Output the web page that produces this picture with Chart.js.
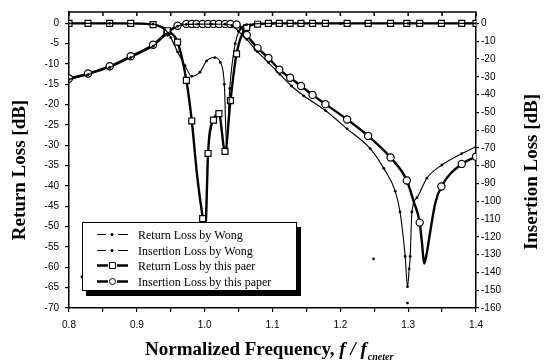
<!DOCTYPE html>
<html>
<head>
<meta charset="utf-8">
<title>Return / Insertion Loss</title>
<script src="https://cdn.jsdelivr.net/npm/chart.js@4/dist/chart.umd.min.js"></script>
<style>
  html, body { margin: 0; padding: 0; background: #fff; }
  #wrap { position: relative; width: 547px; height: 364px; }
</style>
</head>
<body>
<div id="wrap"><canvas id="lossChart" width="547" height="364"></canvas></div>
<script>
// normalized frequency grid where the markers of "this paper" sit
const freqMarks = [0.800, 0.828, 0.860, 0.891, 0.924, 0.945, 0.960, 0.973, 0.981, 0.988, 0.997, 1.005, 1.013, 1.021, 1.030, 1.038, 1.047, 1.062, 1.078, 1.094, 1.110, 1.126, 1.142, 1.159, 1.178, 1.210, 1.241, 1.274, 1.298, 1.317, 1.349, 1.379, 1.400];

// return loss by this paper (dB, left axis)
const rlPaperF = [0.800, 0.828, 0.860, 0.891, 0.924, 0.945, 0.960, 0.973, 0.981, 0.997, 1.005, 1.013, 1.021, 1.030, 1.038, 1.047, 1.062, 1.078, 1.094, 1.110, 1.126, 1.142, 1.159, 1.178, 1.210, 1.241, 1.274, 1.298, 1.317, 1.349, 1.379, 1.400];
const rlPaper = [0, 0, 0, 0, -0.3, -1.8, -4.6, -14, -24, -48, -32, -23.8, -22.2, -31.5, -19, -7.5, -1.0, -0.2, 0, 0, 0, 0, 0, 0, 0, 0, 0, 0, 0, 0, 0, 0];
// unmarked points of the same curve (deep reflection zero)
const rlPaperExtraF = [0.935, 0.988, 0.993, 0.9995, 1.002];
const rlPaperExtraDb = [-0.8, -36, -43, -54, -48];

// insertion loss by this paper (dB, right axis) at freqMarks
const ilPaper = [-31, -28.2, -24.1, -18.5, -12, -5, -1.3, -0.3, -0.3, -0.3, -0.3, -0.3, -0.3, -0.3, -0.3, -0.3, -0.6, -6.5, -13.9, -19.4, -26, -30.6, -35.2, -40.2, -45.4, -54, -63.3, -75.4, -88.3, -112, -91.7, -79, -75];
const ilPaperExtraF = [1.054, 1.308, 1.3205, 1.3236, 1.327, 1.333, 1.340];
const ilPaperExtraDb = [-2.2, -100, -124, -135, -130, -116, -101];

// return loss by Wong (dB, left axis)
const rlWongF = [0.800, 0.860, 0.924, 0.940, 0.950, 0.960, 0.971, 0.981, 0.993, 1.003, 1.015, 1.023, 1.029, 1.0325, 1.037, 1.045, 1.052, 1.062, 1.100, 1.200, 1.300, 1.400];
const rlWongDb = [0, 0, -0.2, -1.2, -3.5, -7, -10.4, -13, -12, -9.2, -8.4, -9.6, -15, -30.7, -16, -5, -1.5, -0.3, 0, 0, 0, 0];

// insertion loss by Wong (dB, right axis)
const ilWongF = [0.800, 0.828, 0.860, 0.891, 0.924, 0.945, 0.960, 0.973, 0.990, 1.010, 1.030, 1.040, 1.050, 1.062, 1.078, 1.094, 1.111, 1.128, 1.146, 1.178, 1.210, 1.244, 1.264, 1.281, 1.288, 1.2956, 1.299, 1.3015, 1.303, 1.3055, 1.313, 1.3276, 1.3497, 1.379, 1.400];
const ilWongDb = [-31.5, -28.8, -24.8, -19.2, -12.8, -5.8, -1.6, -0.6, -0.4, -0.4, -0.5, -1.2, -4.5, -9, -16, -22, -28.7, -35.2, -40.7, -49, -59.3, -70.4, -81.5, -94.4, -106, -131, -148, -138, -131, -106, -98, -87, -79.6, -73.2, -69.3];

// loose dots in the figure (left axis units)
const strayF = [0.819, 1.249, 1.299];
const strayDb = [-62.3, -57.9, -68.8];

const seriesNames = ["Return Loss by Wong", "Insertion Loss by Wong", "Return Loss by this paer", "Insertion Loss by this paper"];
const leftTicks = [0, -5, -10, -15, -20, -25, -30, -35, -40, -45, -50, -55, -60, -65, -70];
const rightTicks = [0, -10, -20, -30, -40, -50, -60, -70, -80, -90, -100, -110, -120, -130, -140, -150, -160];
const axisTitles = { left: "Return Loss [dB]", right: "Insertion Loss [dB]", bottom: "Normalized Frequency, ", fvar: "f / f", fsub: "cneter" };

function pts(fs, vs, mark) {
  return fs.map((f, i) => ({ x: f, y: vs[i], mark: mark }));
}
function merged(fs, vs, exF, exV) {
  return pts(fs, vs, true).concat(pts(exF, exV, false)).sort((a, b) => a.x - b.x);
}

const framePlugin = {
  id: "frame",
  afterDraw(chart) {
    const ctx = chart.ctx;
    const a = chart.chartArea;
    const xs = chart.scales.x;
    ctx.save();
    // top frame line with inward ticks
    ctx.strokeStyle = "#000";
    ctx.lineWidth = 1.5;
    ctx.beginPath();
    ctx.moveTo(a.left, a.top);
    ctx.lineTo(a.right, a.top);
    xs.ticks.forEach(t => {
      const px = xs.getPixelForValue(t.value);
      ctx.moveTo(px, a.top);
      ctx.lineTo(px, a.top + 4);
    });
    ctx.stroke();

    // axis titles
    ctx.fillStyle = "#000";
    ctx.font = 'bold 19px "Liberation Serif"';
    ctx.textBaseline = "alphabetic";
    ctx.textAlign = "center";
    ctx.save();
    ctx.translate(25, 170);
    ctx.rotate(-Math.PI / 2);
    ctx.fillText(axisTitles.left, 0, 0);
    ctx.restore();
    ctx.save();
    ctx.translate(537, 172);
    ctx.rotate(-Math.PI / 2);
    ctx.fillText(axisTitles.right, 0, 0);
    ctx.restore();

    ctx.textAlign = "left";
    let x = 145;
    const base = 355;
    ctx.fillText(axisTitles.bottom, x, base);
    x += ctx.measureText(axisTitles.bottom).width;
    ctx.font = 'italic bold 19px "Liberation Serif"';
    ctx.fillText(axisTitles.fvar, x, base);
    x += ctx.measureText(axisTitles.fvar).width + 1;
    ctx.font = 'italic bold 10px "Liberation Serif"';
    ctx.fillText(axisTitles.fsub, x, base + 5);

    // legend box with drop shadow
    const bx = 82, by = 222, bw = 215, bh = 69;
    ctx.fillStyle = "#000";
    ctx.fillRect(bx + 4, by + 5, bw, bh);
    ctx.fillStyle = "#fff";
    ctx.fillRect(bx, by, bw, bh);
    ctx.lineWidth = 1;
    ctx.strokeRect(bx + 0.5, by + 0.5, bw - 1, bh - 1);

    ctx.font = '12px "Liberation Serif"';
    ctx.textBaseline = "middle";
    seriesNames.forEach((name, i) => {
      const ds = chart.data.datasets[i];
      const y = Math.round(by + 12 + i * 15.5) + 0.5;
      ctx.strokeStyle = "#000";
      ctx.fillStyle = "#000";
      ctx.lineWidth = ds.borderWidth;
      ctx.beginPath();
      if (ds.pointStyle === "circle" && ds.borderWidth < 2) {
        ctx.moveTo(97, y); ctx.lineTo(106, y);
        ctx.moveTo(118, y); ctx.lineTo(128, y);
        ctx.stroke();
        ctx.beginPath();
        ctx.arc(112, y, 1.5, 0, Math.PI * 2);
        ctx.fill();
      } else {
        ctx.moveTo(97, y); ctx.lineTo(108, y);
        ctx.moveTo(117, y); ctx.lineTo(128, y);
        ctx.stroke();
        ctx.lineWidth = 1;
        ctx.fillStyle = "#fff";
        ctx.beginPath();
        if (ds.pointStyle === "rect") {
          ctx.rect(109.5, y - 3, 6, 6);
        } else {
          ctx.arc(112.5, y, 3, 0, Math.PI * 2);
        }
        ctx.fill();
        ctx.stroke();
      }
      ctx.fillStyle = "#000";
      ctx.fillText(name, 138, y + 1);
    });
    ctx.restore();
  }
};

const tickFont = { family: '"Liberation Sans", Arial, sans-serif', size: 10 };

new Chart(document.getElementById("lossChart").getContext("2d"), {
  type: "line",
  data: {
    datasets: [
      {
        label: seriesNames[0],
        data: pts(rlWongF, rlWongDb, true),
        yAxisID: "yL",
        borderColor: "#000",
        borderWidth: 1.1,
        pointStyle: "circle",
        pointRadius: 1.4,
        pointBackgroundColor: "#000",
        pointBorderWidth: 0,
        cubicInterpolationMode: "monotone"
      },
      {
        label: seriesNames[1],
        data: pts(ilWongF, ilWongDb, true),
        yAxisID: "yR",
        borderColor: "#000",
        borderWidth: 1.1,
        pointStyle: "circle",
        pointRadius: 1.4,
        pointBackgroundColor: "#000",
        pointBorderWidth: 0,
        cubicInterpolationMode: "monotone"
      },
      {
        label: seriesNames[2],
        data: merged(rlPaperF, rlPaper, rlPaperExtraF, rlPaperExtraDb),
        yAxisID: "yL",
        borderColor: "#000",
        borderWidth: 2.4,
        pointStyle: "rect",
        pointRadius: ctx => (ctx.raw && ctx.raw.mark ? 4.2 : 0),
        pointBackgroundColor: "#fff",
        pointBorderColor: "#000",
        pointBorderWidth: 1.2,
        cubicInterpolationMode: "monotone"
      },
      {
        label: seriesNames[3],
        data: merged(freqMarks, ilPaper, ilPaperExtraF, ilPaperExtraDb),
        yAxisID: "yR",
        borderColor: "#000",
        borderWidth: 2.4,
        pointStyle: "circle",
        pointRadius: ctx => (ctx.raw && ctx.raw.mark ? 3.6 : 0),
        pointBackgroundColor: "#fff",
        pointBorderColor: "#000",
        pointBorderWidth: 1.2,
        cubicInterpolationMode: "monotone"
      },
      {
        label: "stray",
        data: pts(strayF, strayDb, true),
        yAxisID: "yL",
        showLine: false,
        pointRadius: 1.4,
        pointBackgroundColor: "#000",
        pointBorderWidth: 0
      }
    ]
  },
  options: {
    responsive: false,
    animation: false,
    devicePixelRatio: 1,
    layout: { padding: { top: 9, left: 0, right: 0, bottom: 0 } },
    plugins: { legend: { display: false }, tooltip: { enabled: false } },
    scales: {
      x: {
        type: "linear",
        min: 0.8,
        max: 1.4,
        afterFit: s => { s.height = 56; },
        ticks: {
          stepSize: 0.05,
          autoSkip: false,
          maxRotation: 0,
          padding: 7,
          color: "#000",
          font: tickFont,
          callback: v => (Math.round(v * 100) % 10 === 0 ? v.toFixed(1) : "")
        },
        grid: { drawOnChartArea: false, tickLength: 4, color: "#000", lineWidth: 1.2 },
        border: { color: "#000", width: 1.5 }
      },
      yL: {
        type: "linear",
        position: "left",
        min: -70,
        max: 2.8,
        afterFit: s => { s.width = 69; },
        afterBuildTicks: s => { s.ticks = leftTicks.map(v => ({ value: v })); },
        ticks: { padding: 6, color: "#000", font: tickFont },
        grid: { drawOnChartArea: false, tickLength: 4, color: "#000", lineWidth: 1.2 },
        border: { color: "#000", width: 1.5 }
      },
      yR: {
        type: "linear",
        position: "right",
        min: -160,
        max: 6.4,
        afterFit: s => { s.width = 71; },
        afterBuildTicks: s => { s.ticks = rightTicks.map(v => ({ value: v })); },
        ticks: { padding: 2, color: "#000", font: tickFont },
        grid: { drawOnChartArea: false, tickLength: 3, color: "#000", lineWidth: 1.2 },
        border: { color: "#000", width: 1.5 }
      }
    }
  },
  plugins: [framePlugin]
});
</script>
</body>
</html>
